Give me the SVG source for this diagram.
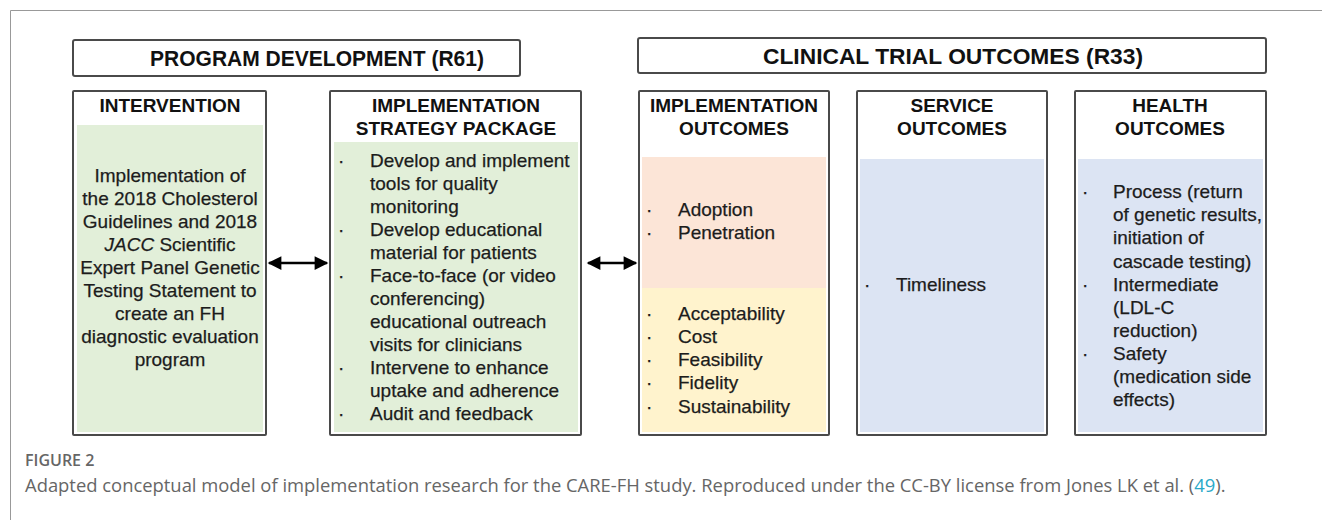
<svg xmlns="http://www.w3.org/2000/svg" width="1322" height="520" viewBox="0 0 1322 520">
<style>
.box{fill:#fff;stroke:#4a4a4a;stroke-width:2}
.hdr{font-family:"Liberation Sans",Arial,sans-serif;font-weight:bold;font-size:19px;fill:#111;text-anchor:middle}
.top{font-family:"Liberation Sans",Arial,sans-serif;font-weight:bold;font-size:22px;fill:#111;text-anchor:middle}
.txt{font-family:"Liberation Sans",Arial,sans-serif;font-size:19px;fill:#1c1c1c;stroke:#1c1c1c;stroke-width:0.25}
.green{fill:#e2efd9}
.peach{fill:#fce5d7}
.yellow{fill:#fff3cd}
.blue{fill:#dce4f3}
.conn{stroke:#000;stroke-width:2.5;fill:none}
.cap1{font-family:"Open Sans",sans-serif;font-size:16px;fill:#666;font-weight:600}
.cap2{font-family:"Open Sans",sans-serif;font-size:18.4px;fill:#666}
</style>
<defs>
<marker id="ah" viewBox="0 0 10 10" refX="9" refY="5" markerWidth="6" markerHeight="5.5" orient="auto-start-reverse" markerUnits="strokeWidth">
<path d="M0,0 L10,5 L0,10 z" fill="#000"/>
</marker>
</defs>
<rect width="1322" height="520" fill="#fff"/>
<path d="M10.5,530 V10.5 H1330" fill="none" stroke="#999" stroke-width="1"/>

<g id="program-development">
<rect class="box" x="73" y="40" width="447" height="36" rx="2"/>
<text class="top" x="317" y="66" textLength="334" lengthAdjust="spacingAndGlyphs">PROGRAM DEVELOPMENT (R61)</text>
</g>
<g id="clinical-trial-outcomes">
<rect class="box" x="638" y="38" width="628" height="35" rx="2"/>
<text class="top" x="953" y="64" textLength="380" lengthAdjust="spacingAndGlyphs">CLINICAL TRIAL OUTCOMES (R33)</text>
</g>

<g id="intervention">
<rect class="box" x="73" y="91" width="193" height="344" rx="1"/>
<rect class="green" x="77" y="125" width="186" height="307"/>
<text class="hdr" x="170" y="112">INTERVENTION</text>
<g class="txt" text-anchor="middle">
<text x="170" y="182">Implementation of</text>
<text x="170" y="205">the 2018 Cholesterol</text>
<text x="170" y="228">Guidelines and 2018</text>
<text x="170" y="251"><tspan font-style="italic">JACC</tspan> Scientific</text>
<text x="170" y="274">Expert Panel Genetic</text>
<text x="170" y="297">Testing Statement to</text>
<text x="170" y="320">create an FH</text>
<text x="170" y="343">diagnostic evaluation</text>
<text x="170" y="366">program</text>
</g>
</g>

<g id="implementation-strategy-package">
<rect class="box" x="330" y="91" width="251" height="344" rx="1"/>
<rect class="green" x="334" y="142" width="244" height="290"/>
<text class="hdr" x="456" y="112">IMPLEMENTATION</text>
<text class="hdr" x="456" y="135">STRATEGY PACKAGE</text>
<g class="txt">
<text x="338" y="167">·</text><text x="370" y="167">Develop and implement</text>
<text x="370" y="190">tools for quality</text>
<text x="370" y="213">monitoring</text>
<text x="338" y="236">·</text><text x="370" y="236">Develop educational</text>
<text x="370" y="259">material for patients</text>
<text x="338" y="282">·</text><text x="370" y="282">Face-to-face (or video</text>
<text x="370" y="305">conferencing)</text>
<text x="370" y="328">educational outreach</text>
<text x="370" y="351">visits for clinicians</text>
<text x="338" y="374">·</text><text x="370" y="374">Intervene to enhance</text>
<text x="370" y="397">uptake and adherence</text>
<text x="338" y="420">·</text><text x="370" y="420">Audit and feedback</text>
</g>
</g>

<g id="implementation-outcomes">
<rect class="box" x="639" y="91" width="190" height="344" rx="1"/>
<rect class="peach" x="642" y="157" width="184" height="131"/>
<rect class="yellow" x="642" y="288" width="184" height="144"/>
<text class="hdr" x="734" y="112">IMPLEMENTATION</text>
<text class="hdr" x="734" y="135">OUTCOMES</text>
<g class="txt">
<text x="646" y="216">·</text><text x="678" y="216">Adoption</text>
<text x="646" y="239">·</text><text x="678" y="239">Penetration</text>
<text x="646" y="320">·</text><text x="678" y="320">Acceptability</text>
<text x="646" y="343">·</text><text x="678" y="343">Cost</text>
<text x="646" y="366">·</text><text x="678" y="366">Feasibility</text>
<text x="646" y="389">·</text><text x="678" y="389">Fidelity</text>
<text x="646" y="413">·</text><text x="678" y="413">Sustainability</text>
</g>
</g>

<g id="service-outcomes">
<rect class="box" x="857" y="91" width="190" height="344" rx="1"/>
<rect class="blue" x="860" y="159" width="184" height="273"/>
<text class="hdr" x="952" y="112">SERVICE</text>
<text class="hdr" x="952" y="135">OUTCOMES</text>
<g class="txt">
<text x="864" y="291">·</text><text x="896" y="291">Timeliness</text>
</g>
</g>

<g id="health-outcomes">
<rect class="box" x="1075" y="91" width="191" height="344" rx="1"/>
<rect class="blue" x="1078" y="159" width="185" height="273"/>
<text class="hdr" x="1170" y="112">HEALTH</text>
<text class="hdr" x="1170" y="135">OUTCOMES</text>
<g class="txt">
<text x="1082" y="198">·</text><text x="1113" y="198">Process (return</text>
<text x="1113" y="221">of genetic results,</text>
<text x="1113" y="244">initiation of</text>
<text x="1113" y="268">cascade testing)</text>
<text x="1082" y="291">·</text><text x="1113" y="291">Intermediate</text>
<text x="1113" y="314">(LDL-C</text>
<text x="1113" y="337">reduction)</text>
<text x="1082" y="360">·</text><text x="1113" y="360">Safety</text>
<text x="1113" y="383">(medication side</text>
<text x="1113" y="406">effects)</text>
</g>
</g>

<g id="connectors">
<line class="conn" x1="269" y1="263" x2="327" y2="263" marker-start="url(#ah)" marker-end="url(#ah)"/>
<line class="conn" x1="588" y1="263" x2="636" y2="263" marker-start="url(#ah)" marker-end="url(#ah)"/>
</g>

<g id="caption">
<text class="cap1" x="25" y="466">FIGURE 2</text>
<text class="cap2" x="25" y="492">Adapted conceptual model of implementation research for the CARE-FH study. Reproduced under the CC-BY license from Jones LK et al. (<tspan fill="#2aa9c9">49</tspan>).</text>
</g>
</svg>
